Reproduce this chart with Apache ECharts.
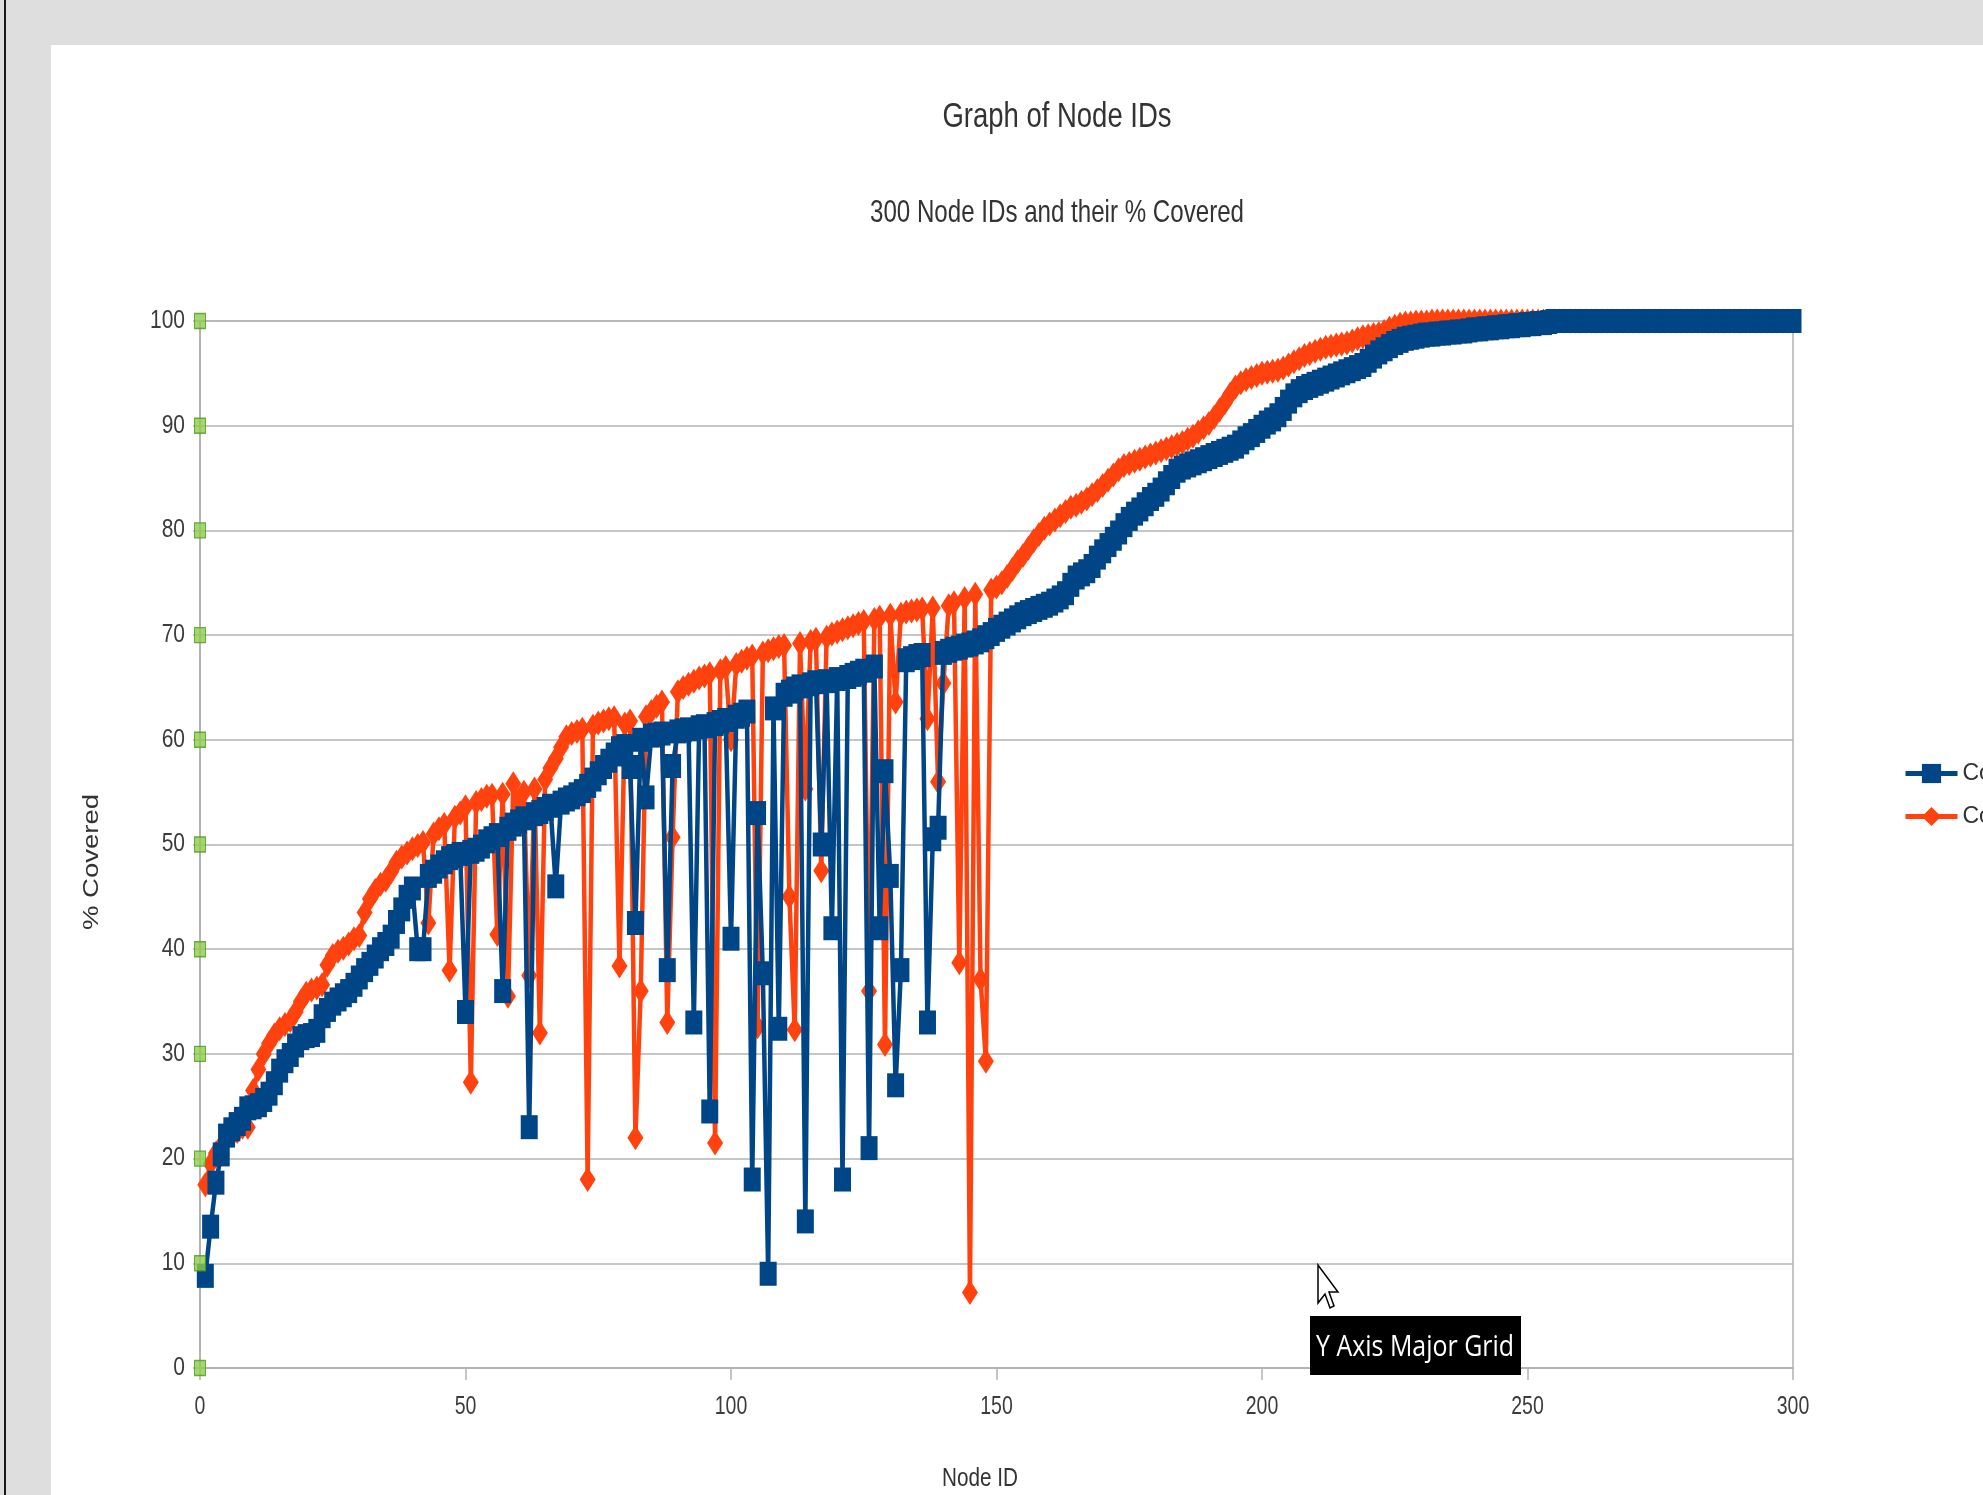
<!DOCTYPE html>
<html>
<head>
<meta charset="utf-8">
<script src="https://cdn.jsdelivr.net/npm/echarts@6/dist/echarts.min.js"></script>
<style>
html,body{margin:0;padding:0;background:#dedede;width:1983px;height:1495px;overflow:hidden;}
#edge{position:absolute;left:4px;top:0;width:2px;height:1495px;background:#1a1a1a;}
#page{position:absolute;left:51px;top:45px;width:1932px;height:1450px;background:#ffffff;}
#chart{position:absolute;left:0;top:0;width:1983px;height:1495px;}
</style>
</head>
<body>
<div id="edge"></div>
<div id="page"></div>
<div id="chart"></div>
<script>
// ---------------- DATA ----------------
const nodeIds = Array.from({length: 300}, (_, i) => i + 1);
const seriesNames = ['Column B', 'Column C'];
const xTickValues = [0, 50, 100, 150, 200, 250, 300];
const yTickValues = [0, 10, 20, 30, 40, 50, 60, 70, 80, 90, 100];

const coveredB = [
  8.8, 13.5, 17.7, 20.4, 22.2, 22.8, 23.3, 23.8, 24.8, 24.9,
  25.1, 25.6, 26.2, 27.2, 28.4, 29.3, 29.9, 30.8, 31.5, 31.7,
  31.8, 32.2, 33.6, 34.2, 34.8, 35.2, 35.6, 36.0, 36.6, 37.3,
  38.0, 38.6, 39.3, 40.0, 40.5, 41.2, 42.6, 43.8, 45.0, 45.8,
  40.0, 40.0, 47.0, 47.4, 47.9, 48.3, 48.7, 48.9, 49.1, 34.0,
  49.3, 49.5, 49.8, 50.3, 50.6, 50.9, 36.0, 51.5, 51.9, 52.2,
  52.5, 23.0, 52.9, 53.1, 53.4, 53.7, 46.0, 54.0, 54.3, 54.5,
  54.8, 55.1, 55.6, 56.2, 56.8, 57.4, 58.0, 58.6, 59.2, 59.4,
  57.4, 42.5, 60.0, 54.5, 60.4, 60.5, 60.6, 38.0, 57.5, 60.8,
  60.9, 61.0, 33.0, 61.2, 61.3, 24.5, 61.5, 61.7, 61.9, 41.0,
  62.2, 62.4, 62.7, 18.0, 53.0, 37.7, 9.0, 63.0, 32.4, 64.3,
  64.6, 64.9, 65.1, 14.0, 65.3, 65.5, 50.0, 65.6, 42.0, 65.8,
  18.0, 66.0, 66.2, 66.4, 66.6, 21.0, 67.0, 42.0, 57.0, 47.0,
  27.0, 38.0, 67.6, 67.8, 68.0, 68.1, 33.0, 50.5, 51.6, 68.3,
  68.5, 68.7, 68.8, 69.0, 69.1, 69.3, 69.5, 69.8, 70.1, 70.5,
  70.8, 71.1, 71.4, 71.7, 72.0, 72.2, 72.4, 72.6, 72.8, 73.0,
  73.3, 73.6, 74.0, 74.8, 75.5, 75.8, 76.1, 76.6, 77.4, 78.0,
  78.6, 79.2, 79.8, 80.5, 81.1, 81.6, 82.0, 82.5, 83.0, 83.4,
  83.9, 84.5, 85.1, 85.7, 86.0, 86.2, 86.4, 86.6, 86.8, 87.0,
  87.2, 87.4, 87.6, 87.8, 88.0, 88.4, 88.8, 89.1, 89.5, 89.9,
  90.3, 90.6, 91.0, 91.6, 92.3, 92.9, 93.3, 93.6, 93.8, 94.0,
  94.2, 94.4, 94.6, 94.8, 95.0, 95.2, 95.4, 95.6, 95.8, 96.2,
  96.6, 97.0, 97.3, 97.6, 97.9, 98.1, 98.3, 98.4, 98.5, 98.6,
  98.7, 98.7, 98.8, 98.8, 98.9, 98.9, 99.0, 99.0, 99.1, 99.2,
  99.2, 99.3, 99.3, 99.4, 99.4, 99.5, 99.5, 99.6, 99.6, 99.7,
  99.7, 99.8, 99.8, 99.9, 100, 100, 100, 100, 100, 100,
  100, 100, 100, 100, 100, 100, 100, 100, 100, 100,
  100, 100, 100, 100, 100, 100, 100, 100, 100, 100,
  100, 100, 100, 100, 100, 100, 100, 100, 100, 100,
  100, 100, 100, 100, 100, 100, 100, 100, 100, 100
];

const coveredC = [
  17.5, 19.5, 20.5, 21.2, 21.8, 22.2, 22.6, 23.0, 23.0, 26.5,
  28.5, 30.0, 31.0, 31.8, 32.4, 32.8, 33.2, 34.0, 35.0, 35.8,
  36.1, 36.3, 36.6, 38.5, 39.4, 39.8, 40.1, 40.5, 41.0, 41.3,
  43.5, 44.8, 45.6, 46.2, 46.6, 47.4, 48.3, 48.8, 49.2, 49.6,
  49.9, 50.2, 42.5, 51.0, 51.5, 51.9, 38.0, 52.6, 53.0, 53.6,
  27.3, 54.0, 54.3, 54.6, 54.7, 41.4, 54.8, 35.5, 55.8, 54.0,
  55.0, 37.5, 55.3, 32.0, 56.2, 57.3, 58.2, 59.3, 60.3, 60.6,
  60.8, 61.0, 18.0, 61.3, 61.6, 61.8, 62.0, 62.1, 38.4, 61.5,
  61.8, 22.0, 36.0, 62.2, 62.7, 63.2, 63.6, 33.0, 50.7, 64.6,
  65.0, 65.3, 65.6, 65.9, 66.1, 66.3, 21.5, 66.6, 66.9, 60.0,
  67.2, 67.5, 67.8, 68.0, 32.6, 68.3, 68.5, 68.7, 68.9, 69.0,
  45.0, 32.3, 69.2, 55.3, 69.4, 69.6, 47.5, 69.8, 70.1, 70.3,
  70.5, 70.7, 70.9, 71.1, 71.3, 36.0, 71.5, 71.7, 30.9, 71.9,
  63.6, 72.0, 72.2, 72.3, 72.4, 72.5, 62.0, 72.6, 56.0, 65.4,
  72.8, 73.1, 38.7, 73.5, 7.2, 73.9, 37.1, 29.3, 74.3, 74.6,
  75.0, 75.6, 76.3, 77.0, 77.6, 78.3, 79.0, 79.6, 80.2, 80.6,
  81.0, 81.4, 81.8, 82.2, 82.4, 82.7, 83.0, 83.4, 83.8, 84.3,
  84.8, 85.3, 85.8, 86.2, 86.4, 86.6, 86.8, 87.0, 87.2, 87.4,
  87.6, 87.8, 88.0, 88.2, 88.4, 88.7, 89.0, 89.4, 89.8, 90.2,
  90.8, 91.5, 92.2, 93.0, 93.7, 94.1, 94.4, 94.6, 94.8, 95.0,
  95.1, 95.2, 95.3, 95.5, 95.8, 96.1, 96.4, 96.7, 96.9, 97.1,
  97.3, 97.5, 97.6, 97.7, 97.8, 97.9, 98.1, 98.3, 98.5, 98.6,
  98.7, 98.8, 99.0, 99.3, 99.5, 99.7, 99.8, 99.8, 99.9, 99.9,
  99.9, 100, 100, 100, 100, 100, 100, 100, 100, 100,
  100, 100, 100, 100, 100, 100, 100, 100, 100, 100,
  100, 100, 100, 100, 100, 100, 100, 100, 100, 100,
  100, 100, 100, 100, 100, 100, 100, 100, 100, 100,
  100, 100, 100, 100, 100, 100, 100, 100, 100, 100,
  100, 100, 100, 100, 100, 100, 100, 100, 100, 100,
  100, 100, 100, 100, 100, 100, 100, 100, 100, 100
];

const chartTitle = 'Graph of Node IDs';
const chartSubtitle = '300 Node IDs and their % Covered';
const xAxisTitle = 'Node ID';
const yAxisTitle = '% Covered';
const hoverTip = 'Y Axis Major Grid';

// ---------------- HELPERS ----------------
const mctx = document.createElement('canvas').getContext('2d');
function measure(text, font) { mctx.font = font; return mctx.measureText(text).width; }
const sansFamily = '"Liberation Sans", Arial, sans-serif';

function scaledText(text, x, y, size, scaleX, family, color, align, rot) {
  return {
    type: 'text', x: x, y: y, rotation: rot || 0, scaleX: scaleX, scaleY: 1, z: 100, silent: true,
    style: { text: text, fontSize: size, fontFamily: family, fill: color,
             textAlign: align, textVerticalAlign: 'middle', align: align, verticalAlign: 'middle' }
  };
}
function fitText(text, cx, cy, size, targetW, family, color, rot) {
  const w = measure(text, size + 'px ' + family);
  return scaledText(text, cx, cy, size, targetW / w, family, color, 'center', rot);
}

// ---------------- CHART ----------------
const chart = echarts.init(document.getElementById('chart'), null, {renderer: 'canvas', width: 1983, height: 1495});
const gridColor = '#b3b3b3';
const blue = '#004586';
const orange = '#ff420e';
const labelColor = '#3c3c3c';

const option = {
  animation: false,
  backgroundColor: 'transparent',
  grid: { left: 200, right: 190, top: 321, bottom: 127, show: true, borderColor: gridColor, borderWidth: 1.5, backgroundColor: 'transparent' },
  legend: {
    data: seriesNames,
    orient: 'vertical', left: 1898, top: 757,
    itemWidth: 52, itemHeight: 24, itemGap: 20,
    lineStyle: { width: 5 },
    textStyle: { fontSize: 23, fontFamily: sansFamily, color: '#333333' },
    selectedMode: false
  },
  xAxis: {
    type: 'value', min: 0, max: 300, interval: 50,
    axisLine: { show: true, onZero: false, lineStyle: { color: gridColor, width: 2 } },
    axisTick: { show: true, length: 12, lineStyle: { color: gridColor, width: 1.5 } },
    axisLabel: { show: false },
    splitLine: { show: false }
  },
  yAxis: {
    type: 'value', min: 0, max: 100, interval: 10,
    axisLine: { show: true, lineStyle: { color: gridColor, width: 2 } },
    axisTick: { show: true, length: 7, lineStyle: { color: gridColor, width: 1.5 } },
    axisLabel: { show: false },
    splitLine: { show: true, lineStyle: { color: gridColor, width: 1.5 } }
  },
  series: [
    {
      name: seriesNames[1], type: 'line', z: 3, clip: false,
      data: nodeIds.map((x, i) => [x, coveredC[i]]),
      symbol: 'diamond', symbolSize: [16, 25], showAllSymbol: true,
      lineStyle: { color: orange, width: 4.5 }, itemStyle: { color: orange }
    },
    {
      name: seriesNames[0], type: 'line', z: 4, clip: false,
      data: nodeIds.map((x, i) => [x, coveredB[i]]),
      symbol: 'rect', symbolSize: [17, 24], showAllSymbol: true,
      lineStyle: { color: blue, width: 4.5 }, itemStyle: { color: blue }
    },
    {
      type: 'scatter', z: 10, clip: false, silent: true,
      data: yTickValues.map(v => [0, v]),
      symbol: 'rect', symbolSize: [11, 15],
      itemStyle: { color: '#8fcc4c', borderColor: '#4f9a1f', borderWidth: 1.2 }
    }
  ]
};
chart.setOption(option);

// Tick labels placed through the chart's own axis scales (condensed look of the original)
const tickFont = 25;
const xLabelScale = 0.78;
const yLabelScale = 0.84;
const graphics = [];
xTickValues.forEach(v => {
  const p = chart.convertToPixel({gridIndex: 0}, [v, 0]);
  graphics.push(scaledText(String(v), p[0], p[1] + 39, tickFont, xLabelScale, sansFamily, labelColor, 'center'));
});
yTickValues.forEach(v => {
  const p = chart.convertToPixel({gridIndex: 0}, [0, v]);
  graphics.push(scaledText(String(v), p[0] - 15, p[1], tickFont, yLabelScale, sansFamily, labelColor, 'right'));
});
graphics.push(
  fitText(chartTitle, 1057, 117, 35, 229, sansFamily, '#333333'),
  fitText(chartSubtitle, 1057, 213, 32, 374, sansFamily, '#333333'),
  fitText(xAxisTitle, 980, 1479, 25, 76, sansFamily, '#333333'),
  fitText(yAxisTitle, 92, 862, 22, 136, sansFamily, '#333333', Math.PI / 2),
  { type: 'rect', z: 100, silent: true, shape: { x: 1310, y: 1316, width: 211, height: 59 }, style: { fill: '#000000' } },
  fitText(hoverTip, 1415, 1347, 30, 198, '"Open Sans", sans-serif', '#ffffff'),
  { type: 'polygon', z: 101, silent: true,
    shape: { points: [[1318,1265],[1318,1303],[1325,1294],[1330,1308],[1334,1306],[1329,1292],[1338,1292]] },
    style: { fill: '#ffffff', stroke: '#000000', lineWidth: 1.5 } }
);
chart.setOption({ graphic: { elements: graphics } });
</script>
</body>
</html>
